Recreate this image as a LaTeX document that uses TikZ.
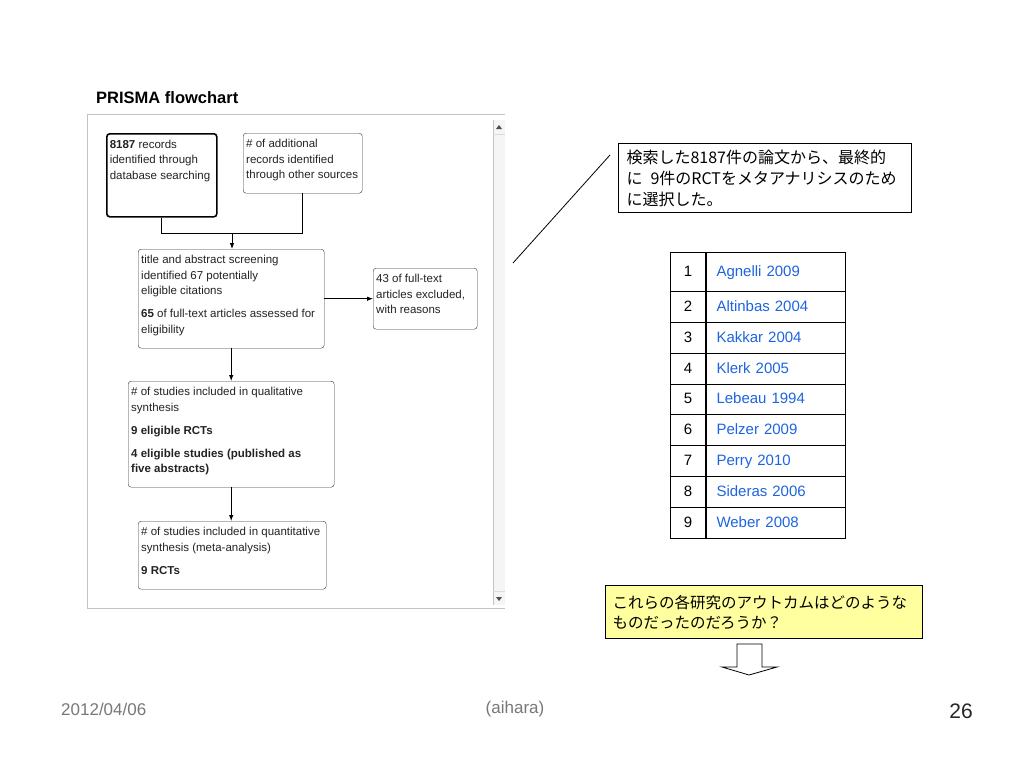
\documentclass[tikz,border=0pt]{standalone}
\usepackage{fontspec}
\setmainfont{Liberation Sans}
\newfontfamily\jpfont{Noto Sans CJK JP}
\usetikzlibrary{arrows.meta, positioning}

\definecolor{boxline}{RGB}{55,55,55}
\definecolor{boxtext}{RGB}{35,35,35}
\definecolor{linkblue}{RGB}{30,100,225}
\definecolor{notefill}{RGB}{255,255,160}
\definecolor{panelgray}{RGB}{195,195,195}
\definecolor{footgray}{RGB}{120,120,120}

\newcommand{\boxtxt}[3]{\parbox[c][#2][t]{#1}{\raggedright #3}}

\begin{document}
\begin{tikzpicture}[x=1pt, y=-1pt,
		fbox/.style={draw=boxline, rounded corners=3pt, fill=white, anchor=north west,
			inner xsep=3pt, inner ysep=6pt, text=boxtext, font=\fontsize{11.5}{15.5}\selectfont},
		arr/.style={-{Latex[length=6pt, width=4.5pt]}, line width=0.8pt},
		link/.style={line width=0.8pt},
		numcell/.style={draw, line width=1pt, anchor=north west, minimum width=35pt,
			inner sep=0pt, text height=11pt, text depth=3pt, font=\fontsize{15}{18}\selectfont},
		namecell/.style={draw, line width=1pt, anchor=north west, text width=119pt, inner xsep=10pt,
			inner ysep=0pt, text height=11pt, text depth=3pt, align=left, text=linkblue,
			font=\fontsize{15}{18}\selectfont},
		jpnote/.style={draw, line width=1pt, anchor=north west, align=left,
			font=\jpfont\fontsize{16}{21}\selectfont}
		]
		\useasboundingbox[fill=white] (0,0) rectangle (1024,768);
		
		% screenshot panel
		\draw[panelgray, fill=white] (87,608) -- (87,114) -- (505,114);
		\draw[panelgray] (87,608) -- (505,608);
		\fill[gray!8] (493,120) rectangle (505,605);
		\draw[panelgray] (493,120) -- (493,605);
		\draw[panelgray!60] (493,134) -- (505,134) (493,591) -- (505,591);
		\fill[black!70] (496,129) -- (502,129) -- (499,125) -- cycle;
		\fill[black!70] (496,597) -- (502,597) -- (499,601) -- cycle;
		
		\node[anchor=west, inner sep=0pt, font=\bfseries\fontsize{16.5}{20}\selectfont] (title) at (96,98) {PRISMA flowchart};
		
		% flowchart
		\node[fbox, line width=1.6pt, draw=black] (b1) at (106,133)
		{\boxtxt{104pt}{71pt}{\textbf{8187} records\\identified through\\database searching}};
		\node[fbox] (b2) at (243,133)
		{\boxtxt{113pt}{48pt}{\# of additional\\records identified\\through other sources}};
		\node[fbox] (b3) at (138,249)
		{\boxtxt{180pt}{87pt}{title and abstract screening\\identified 67 potentially\\eligible citations\\[7.5pt]\textbf{65} of full-text articles assessed for\\eligibility}};
		\node[fbox] (b4) at (373,268)
		{\boxtxt{98pt}{49pt}{43 of full-text\\articles excluded,\\with reasons}};
		\node[fbox] (b5) at (128,381)
		{\boxtxt{200pt}{94pt}{\# of studies included in qualitative\\synthesis\\[7.5pt]{\bfseries 9 eligible RCTs}\\[7.5pt]{\bfseries 4 eligible studies (published as\\five abstracts)}}};
		\node[fbox] (b6) at (138,521)
		{\boxtxt{182pt}{56pt}{\# of studies included in quantitative\\synthesis (meta-analysis)\\[7.5pt]{\bfseries 9 RCTs}}};
		
		\coordinate (join) at (232,233);
		\draw[link] (b1.south) |- (join);
		\draw[link] (b2.south) |- (join);
		\draw[arr] (join) -- (join |- b3.north);
		\draw[arr] (b3.east) -- (b4.west);
		\draw[arr] (b3.south) -- (b3.south |- b5.north);
		\draw[arr] (b5.south) -- (b5.south |- b6.north);
		
		% callout
		\node[jpnote, minimum width=293pt, minimum height=69pt, text width=277pt, inner xsep=8pt] (note) at (618,143)
		{検索した8187件の論文から、最終的\\に\enspace 9件のRCTをメタアナリシスのため\\に選択した。};
		\coordinate (lineA) at (513,263);
		\coordinate (lineB) at (610,155);
		\draw[line width=0.8pt] (lineA) -- (lineB);
		
		% included studies
		\foreach \i/\y/\h/\who in {1/252/39/Agnelli 2009, 2/291/31/Altinbas 2004, 3/322/31/Kakkar 2004,
			4/353/31/Klerk 2005, 5/384/30/Lebeau 1994, 6/414/31/Pelzer 2009, 7/445/31/Perry 2010,
			8/476/31/Sideras 2006, 9/507/31/Weber 2008}
		{
			\node[numcell, minimum height=\h pt] (num\i) at (670,\y) {\i};
			\node[namecell, minimum height=\h pt] (who\i) at (num\i.north east) {\who};
		}
		
		% question
		\node[jpnote, fill=notefill, minimum width=317pt, minimum height=53pt, text width=303pt, inner xsep=7pt,
		font=\jpfont\fontsize{15.5}{20}\selectfont] (ask) at (605,585)
		{これらの各研究のアウトカムはどのような\\ものだったのだろうか？};
		\draw[line width=0.8pt, fill=white] (737,644) -- (762,644) -- (762,667) -- (777,667)
		-- (749,675) -- (722,667) -- (737,667) -- cycle;
		
		% footer
		\node[anchor=west, inner sep=0pt, text=footgray, font=\fontsize{17}{20}\selectfont] (date) at (61,709) {2012/04/06};
		\node[inner sep=0pt, text=footgray, font=\fontsize{17}{20}\selectfont] (who) at (515,709) {(aihara)};
		\node[inner sep=0pt, text=black!85, font=\fontsize{21}{24}\selectfont] (page) at (961,711) {26};
	\end{tikzpicture}
\end{document}
